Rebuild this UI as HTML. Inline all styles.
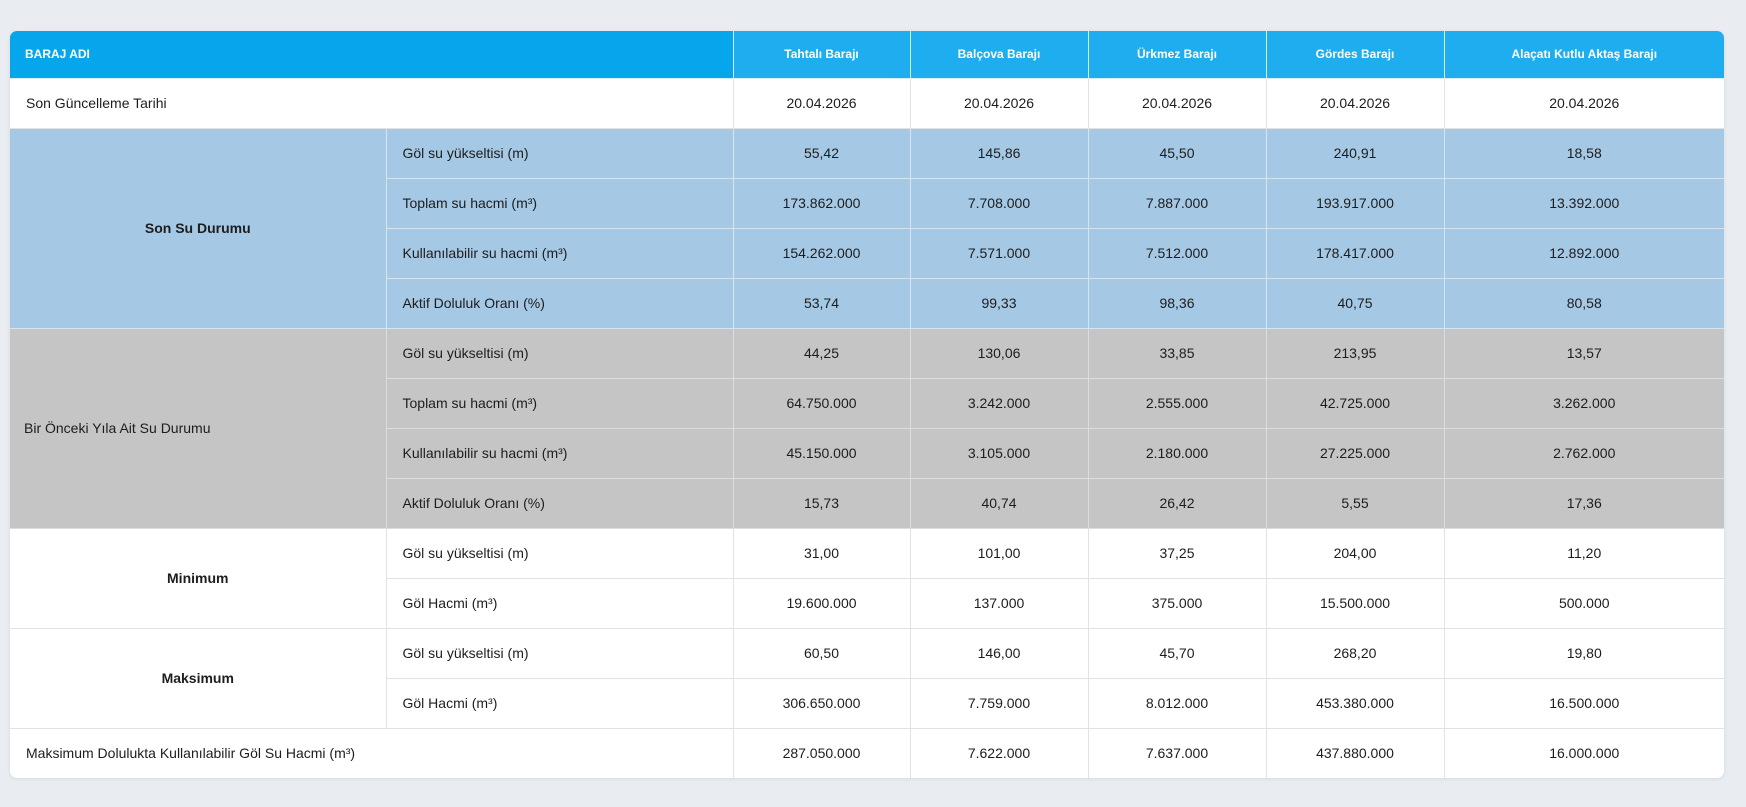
<!DOCTYPE html>
<html><head><meta charset="utf-8"><style>
html,body{margin:0;padding:0;background:#e9edf2;width:1746px;height:807px;overflow:hidden;font-family:"Liberation Sans",sans-serif;}
.card{position:absolute;left:10px;top:31px;width:1714px;height:747px;border-radius:7px;overflow:hidden;box-shadow:0 1px 4px rgba(0,0,0,0.08);background:#fff;}
table{border-collapse:collapse;table-layout:fixed;width:1714px;}
tr{height:50px;}
tr.h{height:47px;}
td,th{padding:0;font-size:14px;color:#1d1d1d;text-align:center;vertical-align:middle;border:1px solid #e2e2e2;white-space:nowrap;}
th{background:#1eaef0;color:#fff;font-size:12px;font-weight:bold;border:1px solid #d8eefa;border-top:none;}
th.first{background:#05a6ec;text-align:left;padding-left:15px;border-left:none;}
td.l{text-align:left;padding-left:16px;}
td.g{font-weight:bold;}
tr.b td{background:#a5c8e4;border-color:#d4e4f1;}
tr.y td{background:#c4c5c4;border-color:#dcdddc;}
td.nl{border-left:none;} td.nr,th.nr{border-right:none;}
</style></head><body>
<div class="card"><table>
<colgroup><col style="width:376px"><col style="width:347px"><col style="width:177px"><col style="width:178px"><col style="width:178px"><col style="width:178px"><col style="width:280px"></colgroup>
<tr class="h"><th class="first" colspan="2">BARAJ ADI</th><th>Tahtalı Barajı</th><th>Balçova Barajı</th><th>Ürkmez Barajı</th><th>Gördes Barajı</th><th class="nr">Alaçatı Kutlu Aktaş Barajı</th></tr>
<tr><td class="l nl" colspan="2">Son Güncelleme Tarihi</td><td>20.04.2026</td><td>20.04.2026</td><td>20.04.2026</td><td>20.04.2026</td><td class="nr">20.04.2026</td></tr>
<tr class="b"><td class="g nl" rowspan="4">Son Su Durumu</td><td class="l">Göl su yükseltisi (m)</td><td>55,42</td><td>145,86</td><td>45,50</td><td>240,91</td><td class="nr">18,58</td></tr>
<tr class="b"><td class="l">Toplam su hacmi (m³)</td><td>173.862.000</td><td>7.708.000</td><td>7.887.000</td><td>193.917.000</td><td class="nr">13.392.000</td></tr>
<tr class="b"><td class="l">Kullanılabilir su hacmi (m³)</td><td>154.262.000</td><td>7.571.000</td><td>7.512.000</td><td>178.417.000</td><td class="nr">12.892.000</td></tr>
<tr class="b"><td class="l">Aktif Doluluk Oranı (%)</td><td>53,74</td><td>99,33</td><td>98,36</td><td>40,75</td><td class="nr">80,58</td></tr>
<tr class="y"><td class="l nl" rowspan="4" style="padding-left:14px">Bir Önceki Yıla Ait Su Durumu</td><td class="l">Göl su yükseltisi (m)</td><td>44,25</td><td>130,06</td><td>33,85</td><td>213,95</td><td class="nr">13,57</td></tr>
<tr class="y"><td class="l">Toplam su hacmi (m³)</td><td>64.750.000</td><td>3.242.000</td><td>2.555.000</td><td>42.725.000</td><td class="nr">3.262.000</td></tr>
<tr class="y"><td class="l">Kullanılabilir su hacmi (m³)</td><td>45.150.000</td><td>3.105.000</td><td>2.180.000</td><td>27.225.000</td><td class="nr">2.762.000</td></tr>
<tr class="y"><td class="l">Aktif Doluluk Oranı (%)</td><td>15,73</td><td>40,74</td><td>26,42</td><td>5,55</td><td class="nr">17,36</td></tr>
<tr><td class="g nl" rowspan="2">Minimum</td><td class="l">Göl su yükseltisi (m)</td><td>31,00</td><td>101,00</td><td>37,25</td><td>204,00</td><td class="nr">11,20</td></tr>
<tr><td class="l">Göl Hacmi (m³)</td><td>19.600.000</td><td>137.000</td><td>375.000</td><td>15.500.000</td><td class="nr">500.000</td></tr>
<tr><td class="g nl" rowspan="2">Maksimum</td><td class="l">Göl su yükseltisi (m)</td><td>60,50</td><td>146,00</td><td>45,70</td><td>268,20</td><td class="nr">19,80</td></tr>
<tr><td class="l">Göl Hacmi (m³)</td><td>306.650.000</td><td>7.759.000</td><td>8.012.000</td><td>453.380.000</td><td class="nr">16.500.000</td></tr>
<tr><td class="l nl" colspan="2" style="border-bottom:none">Maksimum Dolulukta Kullanılabilir Göl Su Hacmi (m³)</td><td style="border-bottom:none">287.050.000</td><td style="border-bottom:none">7.622.000</td><td style="border-bottom:none">7.637.000</td><td style="border-bottom:none">437.880.000</td><td class="nr" style="border-bottom:none">16.000.000</td></tr>
</table></div>
</body></html>
